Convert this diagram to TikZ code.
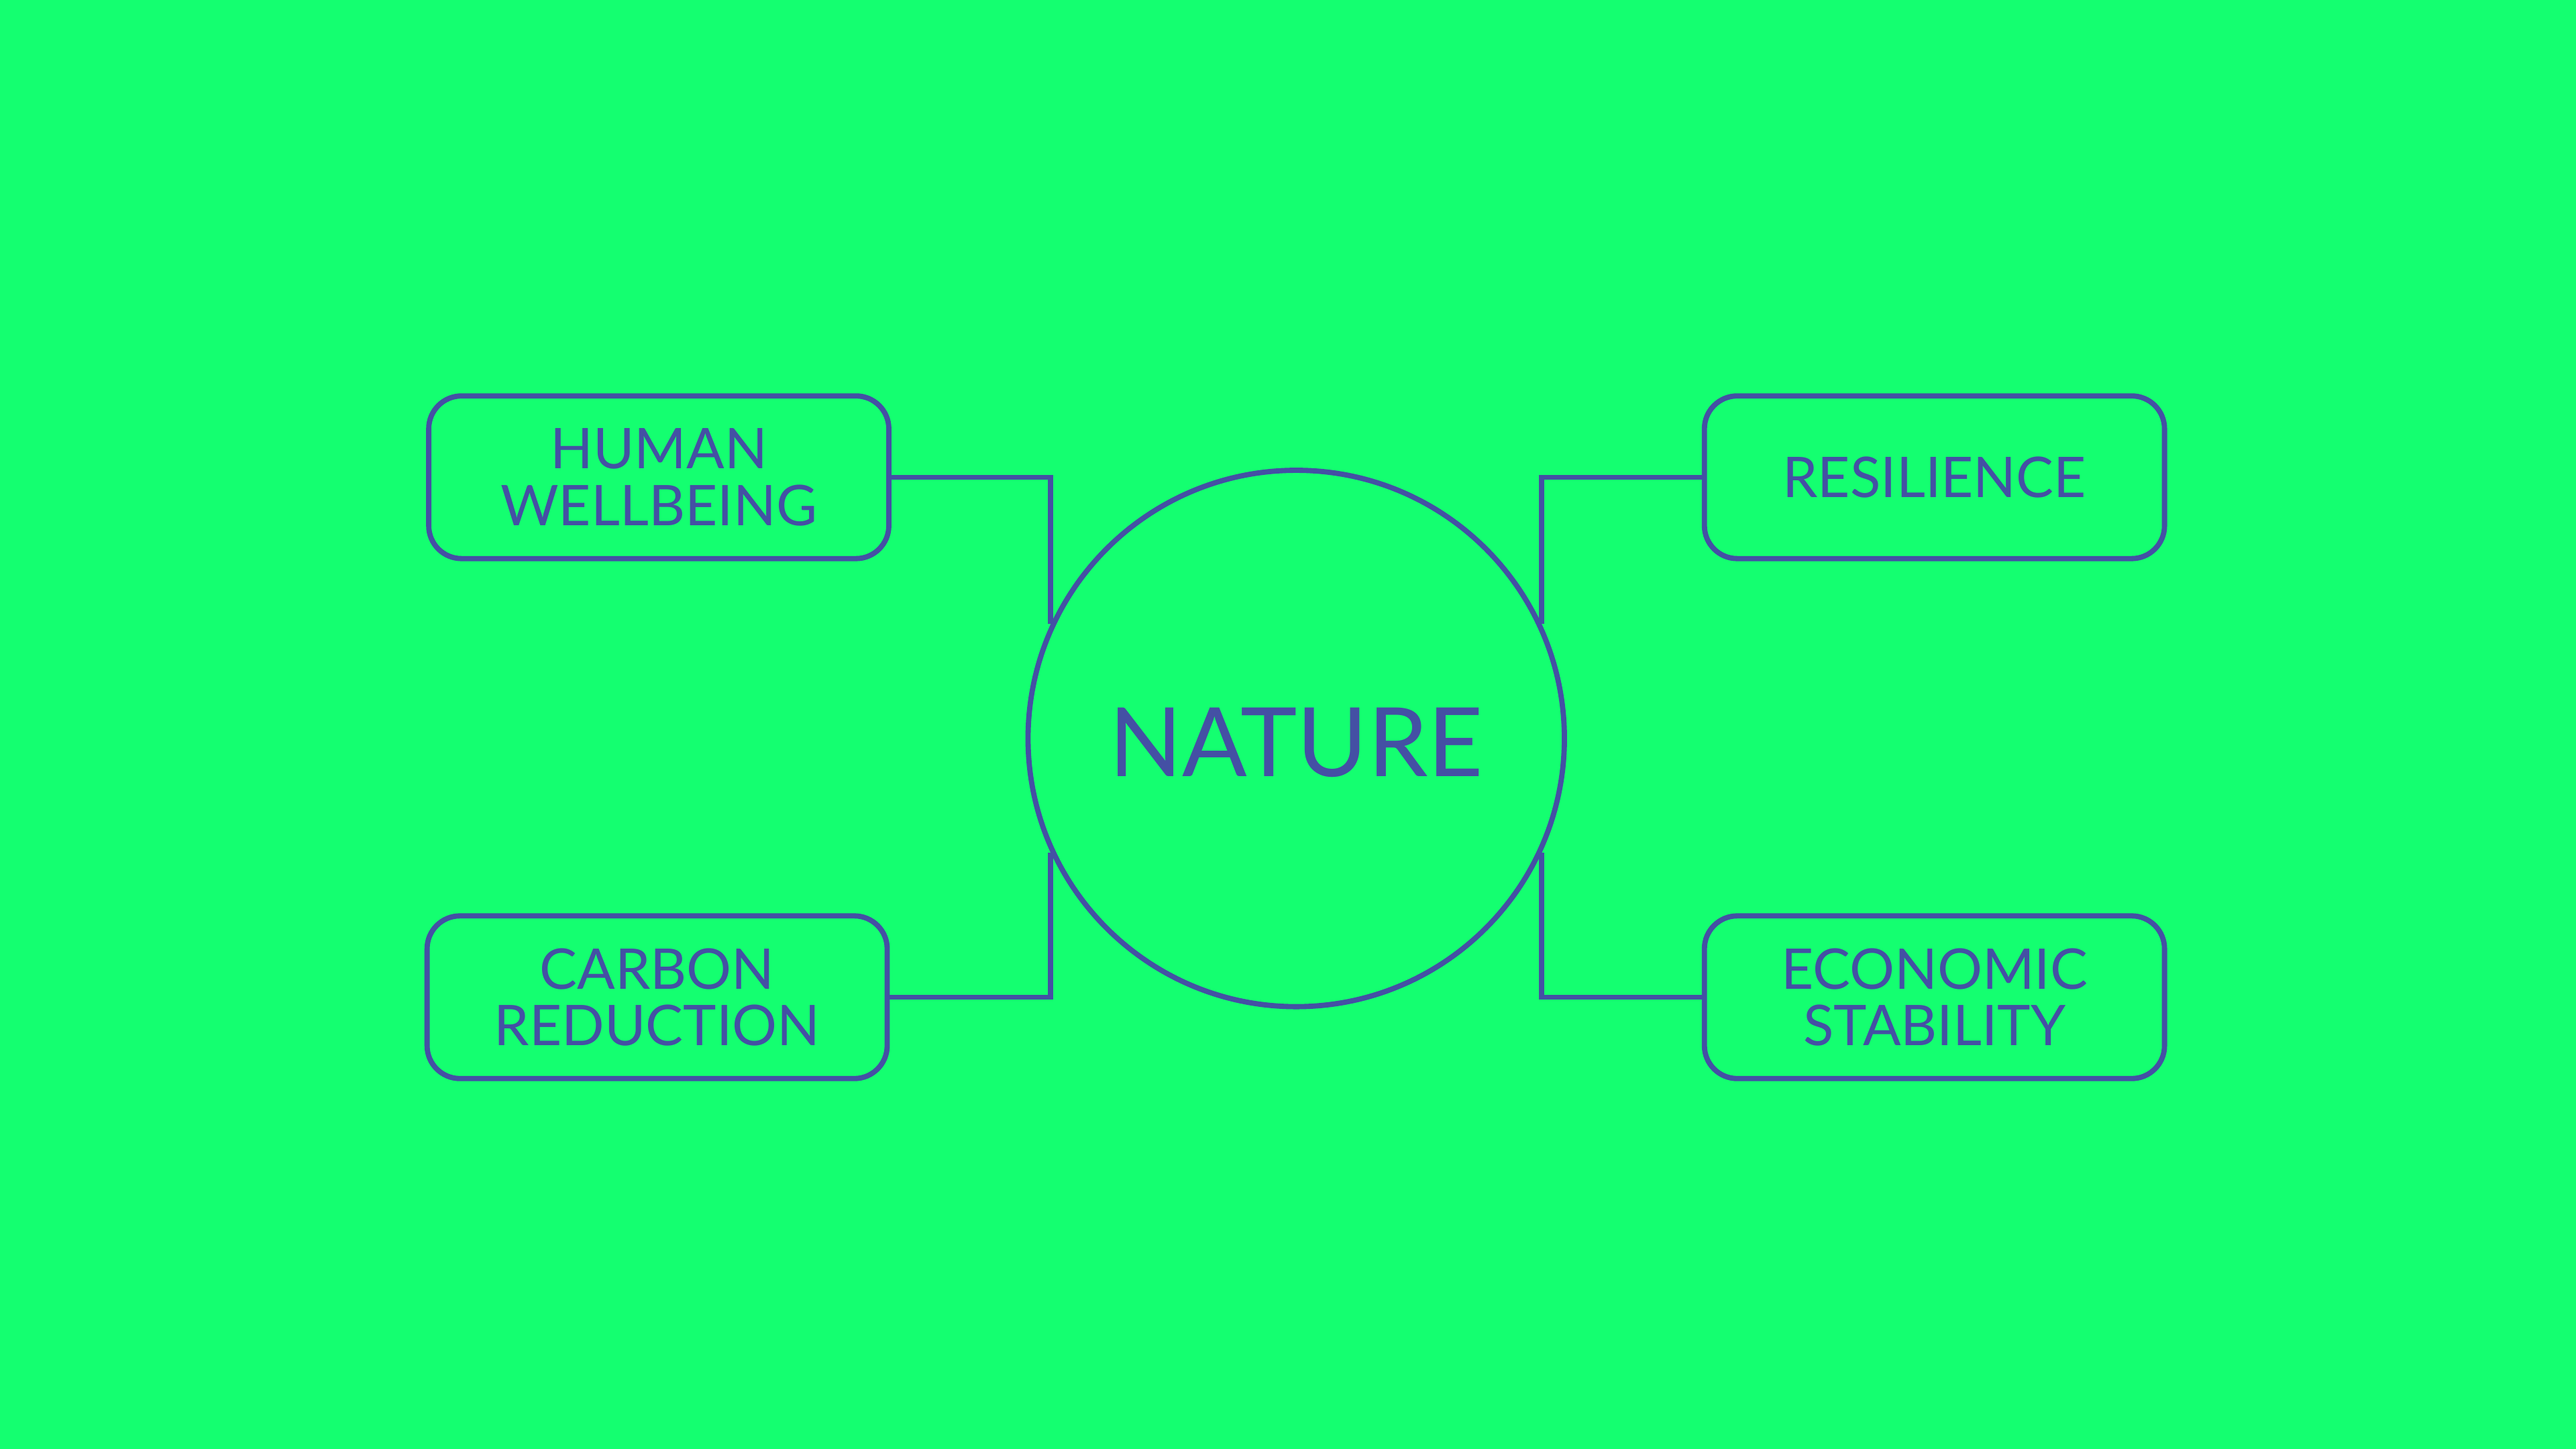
\documentclass[tikz,border=0pt]{standalone}
\usepackage{fontspec}
\setmainfont{Lato}
\definecolor{bggreen}{HTML}{14FF70}
\definecolor{ink}{HTML}{4450A4}
\tikzset{
  topic/.style={draw=ink, line width=0.08cm, rounded corners=0.5cm,
    minimum width=7cm, minimum height=2.475cm, inner sep=0pt,
    align=center, text=ink, font=\fontsize{24.3}{24.5}\selectfont},
  hub/.style={draw=ink, line width=0.08cm, circle, minimum size=8.16cm,
    inner sep=0pt, text=ink, font=\fontsize{41.5}{48}\selectfont},
  link/.style={draw=ink, line width=0.08cm}
}
\begin{document}
\begin{tikzpicture}[x=0.025cm, y=-0.025cm]
    % Green background, 1568 x 882 units
    \fill[bggreen] (0, 0) rectangle (1568, 882);
    \useasboundingbox (0, 0) rectangle (1568, 882);

    % Centre circle
    \node[hub] (nature) at (789, 449.5) {};
    \node[text=ink, font=\fontsize{41.5}{48}\selectfont] (naturetext) at (789, 452) {NATURE};

    % Four topic boxes
    \node[topic] (wellbeing) at (401, 290.5) {HUMAN\\WELLBEING};
    \node[topic] (carbon) at (400, 607) {CARBON\\REDUCTION};
    \node[topic] (resilience) at (1177.5, 290.5) {RESILIENCE};
    \node[topic] (economy) at (1177.5, 607) {ECONOMIC\\STABILITY};

    % Elbow links from boxes to the circle
    \draw[link] (wellbeing.east) -| (nature.155);
    \draw[link] (carbon.east) -| (nature.205);
    \draw[link] (resilience.west) -| (nature.25);
    \draw[link] (economy.west) -| (nature.335);
  \end{tikzpicture}
\end{document}
